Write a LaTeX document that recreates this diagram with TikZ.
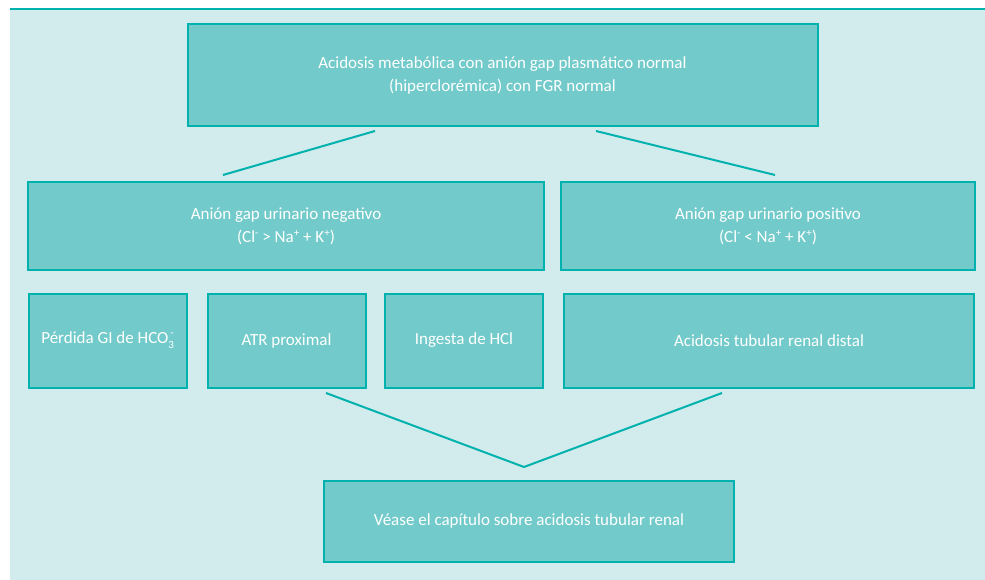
\documentclass[tikz,border=0pt]{standalone}
\usepackage{fontspec}
\setmainfont{Carlito}
\definecolor{bgc}{HTML}{D2EBEC}
\definecolor{boxf}{HTML}{72CACA}
\definecolor{edge}{HTML}{00B2AE}
\newcommand{\smallfnt}{\fontsize{11}{11}\selectfont}
\newcommand{\sups}[1]{\raisebox{0.75ex}{\smallfnt #1}}
\begin{document}
\begin{tikzpicture}[x=1pt,y=-1pt,
  box/.style={draw=edge,fill=boxf,line width=2pt,text=white,align=center,font=\fontsize{17}{23}\selectfont},
  conn/.style={draw=edge,line width=2pt}]
\useasboundingbox (0,0) rectangle (985,580);
\fill[bgc] (10,9) rectangle (985,580);
\draw[edge,line width=2.5pt] (10,9) -- (985,9);
\node[box,minimum width=630,minimum height=102] (top) at (502.5,75.5) {Acidosis metabólica con anión gap plasmático normal\\(hiperclorémica) con FGR normal};
\node[box,minimum width=516,minimum height=88] (neg) at (286,226) {Anión gap urinario negativo\\(Cl\sups{-} > Na\sups{+} + K\sups{+})};
\node[box,minimum width=414,minimum height=88] (pos) at (768,226) {Anión gap urinario positivo\\(Cl\sups{-} < Na\sups{+} + K\sups{+})};
\node[box,minimum width=158,minimum height=94] (gi) at (107.5,340.5) {Pérdida GI de HCO\rlap{\raisebox{-0.6ex}{\smallfnt 3}}\raisebox{0.9ex}{\smallfnt\,-}};
\node[box,minimum width=158,minimum height=94] (atr) at (286.5,340.5) {ATR proximal};
\node[box,minimum width=158,minimum height=94] (hcl) at (464,340.5) {Ingesta de HCl};
\node[box,minimum width=410,minimum height=94] (dist) at (769,340.5) {Acidosis tubular renal distal};
\node[box,minimum width=410,minimum height=81] (see) at (529,521) {Véase el capítulo sobre acidosis tubular renal};
\coordinate (a1) at (375,131);
\coordinate (a2) at (223,175);
\coordinate (b1) at (596,131);
\coordinate (b2) at (775,175);
\coordinate (c1) at (326,393);
\coordinate (c2) at (524,467);
\coordinate (c3) at (722,393);
\draw[conn] (a1) -- (a2);
\draw[conn] (b1) -- (b2);
\draw[conn,line join=miter] (c1) -- (c2) -- (c3);
\end{tikzpicture}
\end{document}
